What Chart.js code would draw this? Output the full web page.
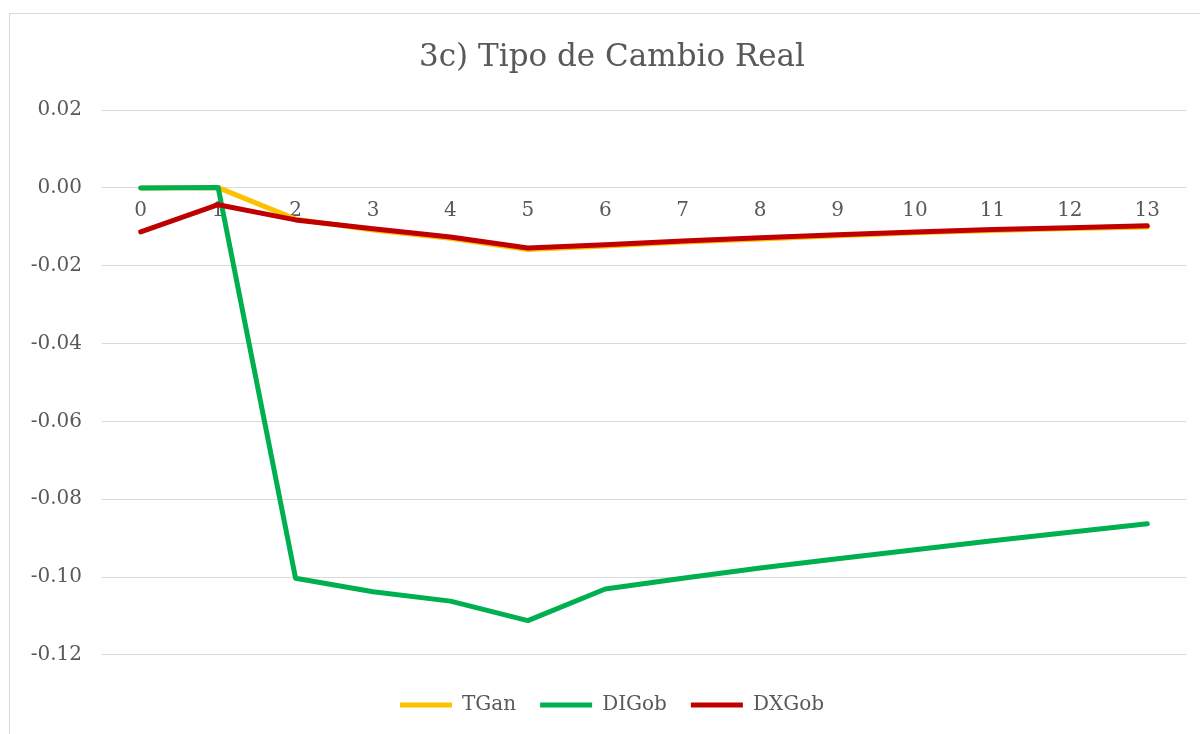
<!DOCTYPE html>
<html>
<head>
<meta charset="utf-8">
<script src="https://cdn.jsdelivr.net/npm/chart.js@4"></script>
<style>
    html, body { margin: 0; padding: 0; background: #fff; overflow: hidden; }
    #box { position: absolute; left: 9px; top: 13px; width: 1206px; height: 760px; border: 1px solid #d9d9d9; }
</style>
</head>
<body>
<div id="box"><canvas id="myChart" width="1206" height="711"></canvas></div>
<script>
    // datos
    var periodos = ['0', '1', '2', '3', '4', '5', '6', '7', '8', '9', '10', '11', '12', '13'];
    var tgan = [0, 0.0001, -0.0080, -0.0108, -0.0129, -0.0158, -0.0149, -0.0139, -0.0131, -0.0123, -0.0115, -0.0109, -0.0104, -0.0100];
    var digob = [0, 0.0001, -0.1003, -0.1038, -0.1062, -0.1112, -0.1031, -0.1003, -0.0977, -0.0953, -0.0930, -0.0907, -0.0885, -0.0863];
    var dxgob = [-0.0113, -0.0043, -0.0082, -0.0105, -0.0126, -0.0154, -0.0146, -0.0136, -0.0128, -0.0120, -0.0113, -0.0107, -0.0102, -0.0097];
    var yTicks = [0.02, 0.00, -0.02, -0.04, -0.06, -0.08, -0.10, -0.12];

    var fuente = 'DejaVu Serif';
    var gris = '#595959';

    function serie(label, data, color, order) {
        return {
            label: label,
            data: data,
            borderColor: color,
            backgroundColor: color,
            borderWidth: 5,
            borderCapStyle: 'round',
            borderJoinStyle: 'round',
            pointRadius: 0,
            tension: 0,
            order: order
        };
    }

    // deja que las etiquetas del eje y usen el margen izquierdo (evita que se corte el signo menos)
    var ejeAncho = {
        id: 'ejeAncho',
        afterLayout: function (chart) { chart.scales.y.left = 0; }
    };

    new Chart('myChart', {
        type: 'line',
        data: {
            labels: periodos,
            datasets: [
                serie('TGan', tgan, '#FFC000', 3),
                serie('DIGob', digob, '#00B050', 2),
                serie('DXGob', dxgob, '#C00000', 1)
            ]
        },
        plugins: [ejeAncho],
        options: {
            responsive: false,
            animation: false,
            layout: { padding: { left: 28, right: 30, top: 0, bottom: 0 } },
            plugins: {
                title: {
                    display: true,
                    text: '3c) Tipo de Cambio Real',
                    color: gris,
                    font: { family: fuente, size: 31, weight: 'normal' },
                    padding: { top: 25, bottom: 34 }
                },
                legend: {
                    position: 'bottom',
                    title: { display: true, text: '', padding: { top: 15, bottom: 0 }, font: { size: 1 } },
                    labels: {
                        color: gris,
                        font: { family: fuente, size: 20 },
                        usePointStyle: true,
                        pointStyle: 'line',
                        pointStyleWidth: 52,
                        padding: 24,
                        sort: function (a, b) { return a.datasetIndex - b.datasetIndex; }
                    }
                },
                tooltip: { enabled: false }
            },
            scales: {
                x: {
                    type: 'category',
                    offset: true,
                    position: { y: 0 },
                    grid: { display: false, drawTicks: false },
                    border: { display: false },
                    ticks: {
                        color: gris,
                        font: { family: fuente, size: 20 },
                        padding: 11,
                        maxRotation: 0,
                        autoSkip: false
                    },
                    afterFit: function (s) { s.height = 0; }
                },
                y: {
                    min: -0.12,
                    max: 0.02,
                    grid: { color: '#d9d9d9', lineWidth: 1, drawTicks: false },
                    border: { display: false },
                    afterFit: function (s) { s.width = 64; },
                    afterBuildTicks: function (s) {
                        s.ticks = yTicks.map(function (v) { return { value: v }; });
                    },
                    ticks: {
                        color: gris,
                        font: { family: fuente, size: 20 },
                        padding: 20,
                        callback: function (v) { return v.toFixed(2); }
                    }
                }
            }
        }
    });
</script>
</body>
</html>
